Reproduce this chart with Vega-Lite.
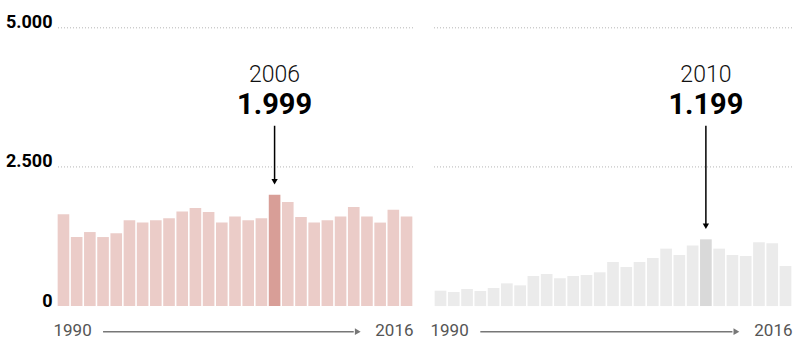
{
  "$schema": "https://vega.github.io/schema/vega-lite/v6.json",
  "padding": {"left": 5, "top": 0, "right": 5, "bottom": 0},
  "config": {
    "font": "Roboto",
    "view": {"stroke": null},
    "locale": {"number": {"decimal": ",", "thousands": ".", "grouping": [3], "currency": ["", " €"]}}
  },
  "datasets": {
    "left": [
      {"year": 1990, "value": 1650}, {"year": 1991, "value": 1240}, {"year": 1992, "value": 1330},
      {"year": 1993, "value": 1240}, {"year": 1994, "value": 1310}, {"year": 1995, "value": 1540},
      {"year": 1996, "value": 1500}, {"year": 1997, "value": 1540}, {"year": 1998, "value": 1580},
      {"year": 1999, "value": 1700}, {"year": 2000, "value": 1760}, {"year": 2001, "value": 1690},
      {"year": 2002, "value": 1500}, {"year": 2003, "value": 1610}, {"year": 2004, "value": 1540},
      {"year": 2005, "value": 1580}, {"year": 2006, "value": 1999}, {"year": 2007, "value": 1870},
      {"year": 2008, "value": 1600}, {"year": 2009, "value": 1500}, {"year": 2010, "value": 1540},
      {"year": 2011, "value": 1610}, {"year": 2012, "value": 1780}, {"year": 2013, "value": 1610},
      {"year": 2014, "value": 1500}, {"year": 2015, "value": 1730}, {"year": 2016, "value": 1610}
    ],
    "right": [
      {"year": 1990, "value": 276}, {"year": 1991, "value": 252}, {"year": 1992, "value": 306},
      {"year": 1993, "value": 270}, {"year": 1994, "value": 324}, {"year": 1995, "value": 408},
      {"year": 1996, "value": 372}, {"year": 1997, "value": 540}, {"year": 1998, "value": 576},
      {"year": 1999, "value": 498}, {"year": 2000, "value": 540}, {"year": 2001, "value": 558},
      {"year": 2002, "value": 606}, {"year": 2003, "value": 792}, {"year": 2004, "value": 702},
      {"year": 2005, "value": 792}, {"year": 2006, "value": 864}, {"year": 2007, "value": 1032},
      {"year": 2008, "value": 918}, {"year": 2009, "value": 1086}, {"year": 2010, "value": 1199},
      {"year": 2011, "value": 1032}, {"year": 2012, "value": 918}, {"year": 2013, "value": 900},
      {"year": 2014, "value": 1146}, {"year": 2015, "value": 1128}, {"year": 2016, "value": 720}
    ],
    "grid": [{"g": 2500}, {"g": 5000}]
  },
  "spacing": 16,
  "hconcat": [
    {
      "width": 356,
      "height": 345,
      "layer": [
        {
          "data": {"name": "grid"},
          "mark": {"type": "rule", "color": "#b5b5b5", "strokeDash": [1, 2], "strokeWidth": 1},
          "encoding": {"y": {"field": "g", "type": "quantitative", "scale": {"domain": [-700, 5500], "nice": false, "zero": false},
              "axis": {
                "title": null, "values": [0, 2500, 5000], "format": ",.0f",
                "domain": false, "ticks": false, "tickSize": 0, "labelPadding": 5,
                "labelFont": "Roboto", "labelFontSize": 18, "labelFontWeight": "bold", "labelColor": "#000",
                "labelBaseline": "alphabetic", "grid": false
              }}}
        },
        {
          "data": {"name": "left"},
          "mark": {"type": "bar"},
          "encoding": {
            "x": {"field": "year", "type": "ordinal", "scale": {"paddingInner": 0.12, "paddingOuter": 0.05}, "axis": null},
            "y": {"field": "value", "type": "quantitative"},
            "color": {"condition": {"test": "datum.year === 2006", "value": "#D89E97"}, "value": "#EBCCC8"}
          }
        },
        {
          "data": {"name": "left"},
          "transform": [{"filter": "datum.year === 2006"}],
          "mark": {"type": "text", "fontSize": 23, "fontWeight": 300, "color": "#111", "baseline": "alphabetic", "align": "center"},
          "encoding": {
            "x": {"field": "year", "type": "ordinal"},
            "y": {"datum": 4020, "type": "quantitative"},
            "text": {"field": "year", "type": "nominal"}
          }
        },
        {
          "data": {"name": "left"},
          "transform": [{"filter": "datum.year === 2006"}],
          "mark": {"type": "text", "fontSize": 29, "fontWeight": "bold", "color": "#000", "baseline": "alphabetic", "align": "center"},
          "encoding": {
            "x": {"field": "year", "type": "ordinal"},
            "y": {"datum": 3460, "type": "quantitative"},
            "text": {"field": "value", "type": "quantitative", "format": ",.0f"}
          }
        },
        {
          "data": {"name": "left"},
          "transform": [{"filter": "datum.year === 2006"}],
          "mark": {"type": "rule", "color": "#000", "strokeWidth": 1.5, "yOffset": -14},
          "encoding": {
            "x": {"field": "year", "type": "ordinal"},
            "y": {"field": "value", "type": "quantitative"},
            "y2": {"datum": 3240}
          }
        },
        {
          "data": {"name": "left"},
          "transform": [{"filter": "datum.year === 2006"}],
          "mark": {"type": "point", "shape": "triangle-down", "filled": true, "size": 40, "color": "#000", "opacity": 1, "yOffset": -13},
          "encoding": {
            "x": {"field": "year", "type": "ordinal"},
            "y": {"field": "value", "type": "quantitative"}
          }
        },
        {
          "data": {"name": "left"},
          "transform": [{"filter": "datum.year === 1990"}],
          "mark": {"type": "text", "fontSize": 17, "color": "#555", "align": "left", "baseline": "alphabetic", "dx": -10},
          "encoding": {"x": {"field": "year", "type": "ordinal"}, "y": {"datum": -540, "type": "quantitative"}, "text": {"field": "year", "type": "nominal"}}
        },
        {
          "data": {"name": "left"},
          "transform": [{"filter": "datum.year === 2016"}],
          "mark": {"type": "text", "fontSize": 17, "color": "#555", "align": "right", "baseline": "alphabetic", "dx": 7},
          "encoding": {"x": {"field": "year", "type": "ordinal"}, "y": {"datum": -540, "type": "quantitative"}, "text": {"field": "year", "type": "nominal"}}
        },
        {
          "data": {"name": "left"},
          "transform": [{"filter": "datum.year === 1993 || datum.year === 2012"}],
          "mark": {"type": "line", "color": "#777", "strokeWidth": 1.5},
          "encoding": {"x": {"field": "year", "type": "ordinal"}, "y": {"datum": -460, "type": "quantitative"}}
        },
        {
          "data": {"name": "left"},
          "transform": [{"filter": "datum.year === 2012"}],
          "mark": {"type": "point", "shape": "triangle-right", "filled": true, "size": 45, "color": "#777", "opacity": 1, "xOffset": 4},
          "encoding": {"x": {"field": "year", "type": "ordinal"}, "y": {"datum": -460, "type": "quantitative"}}
        }
      ]
    },
    {
      "width": 358,
      "height": 345,
      "layer": [
        {
          "data": {"name": "grid"},
          "mark": {"type": "rule", "color": "#b5b5b5", "strokeDash": [1, 2], "strokeWidth": 1},
          "encoding": {"y": {"field": "g", "type": "quantitative", "scale": {"domain": [-700, 5500], "nice": false, "zero": false}, "axis": null}}
        },
        {
          "data": {"name": "right"},
          "mark": {"type": "bar"},
          "encoding": {
            "x": {"field": "year", "type": "ordinal", "scale": {"paddingInner": 0.12, "paddingOuter": 0.05}, "axis": null},
            "y": {"field": "value", "type": "quantitative"},
            "color": {"condition": {"test": "datum.year === 2010", "value": "#D9D9D9"}, "value": "#EBEBEB"}
          }
        },
        {
          "data": {"name": "right"},
          "transform": [{"filter": "datum.year === 2010"}],
          "mark": {"type": "text", "fontSize": 23, "fontWeight": 300, "color": "#111", "baseline": "alphabetic", "align": "center"},
          "encoding": {
            "x": {"field": "year", "type": "ordinal"},
            "y": {"datum": 4020, "type": "quantitative"},
            "text": {"field": "year", "type": "nominal"}
          }
        },
        {
          "data": {"name": "right"},
          "transform": [{"filter": "datum.year === 2010"}],
          "mark": {"type": "text", "fontSize": 29, "fontWeight": "bold", "color": "#000", "baseline": "alphabetic", "align": "center"},
          "encoding": {
            "x": {"field": "year", "type": "ordinal"},
            "y": {"datum": 3460, "type": "quantitative"},
            "text": {"field": "value", "type": "quantitative", "format": ",.0f"}
          }
        },
        {
          "data": {"name": "right"},
          "transform": [{"filter": "datum.year === 2010"}],
          "mark": {"type": "rule", "color": "#000", "strokeWidth": 1.5, "yOffset": -14},
          "encoding": {
            "x": {"field": "year", "type": "ordinal"},
            "y": {"field": "value", "type": "quantitative"},
            "y2": {"datum": 3240}
          }
        },
        {
          "data": {"name": "right"},
          "transform": [{"filter": "datum.year === 2010"}],
          "mark": {"type": "point", "shape": "triangle-down", "filled": true, "size": 40, "color": "#000", "opacity": 1, "yOffset": -13},
          "encoding": {
            "x": {"field": "year", "type": "ordinal"},
            "y": {"field": "value", "type": "quantitative"}
          }
        },
        {
          "data": {"name": "right"},
          "transform": [{"filter": "datum.year === 1990"}],
          "mark": {"type": "text", "fontSize": 17, "color": "#555", "align": "left", "baseline": "alphabetic", "dx": -10},
          "encoding": {"x": {"field": "year", "type": "ordinal"}, "y": {"datum": -540, "type": "quantitative"}, "text": {"field": "year", "type": "nominal"}}
        },
        {
          "data": {"name": "right"},
          "transform": [{"filter": "datum.year === 2016"}],
          "mark": {"type": "text", "fontSize": 17, "color": "#555", "align": "right", "baseline": "alphabetic", "dx": 7},
          "encoding": {"x": {"field": "year", "type": "ordinal"}, "y": {"datum": -540, "type": "quantitative"}, "text": {"field": "year", "type": "nominal"}}
        },
        {
          "data": {"name": "right"},
          "transform": [{"filter": "datum.year === 1993 || datum.year === 2012"}],
          "mark": {"type": "line", "color": "#777", "strokeWidth": 1.5},
          "encoding": {"x": {"field": "year", "type": "ordinal"}, "y": {"datum": -460, "type": "quantitative"}}
        },
        {
          "data": {"name": "right"},
          "transform": [{"filter": "datum.year === 2012"}],
          "mark": {"type": "point", "shape": "triangle-right", "filled": true, "size": 45, "color": "#777", "opacity": 1, "xOffset": 4},
          "encoding": {"x": {"field": "year", "type": "ordinal"}, "y": {"datum": -460, "type": "quantitative"}}
        }
      ]
    }
  ]
}
